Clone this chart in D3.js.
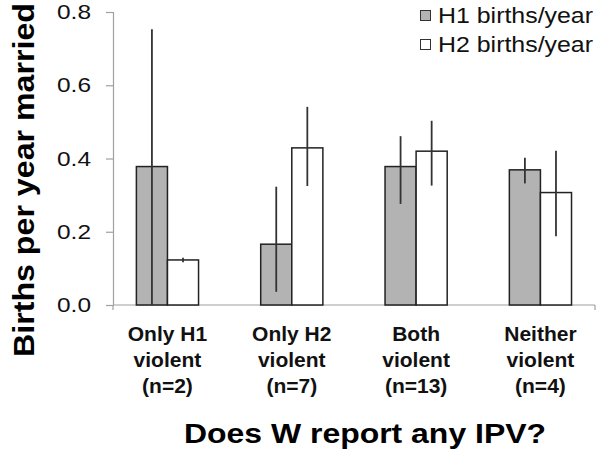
<!DOCTYPE html>
<html>
<head>
<meta charset="utf-8">
<script src="https://cdn.jsdelivr.net/npm/d3@7"></script>
<style>
  html, body { margin: 0; padding: 0; background: #fff; }
  svg { display: block; font-family: "Liberation Sans", Arial, sans-serif; }
</style>
</head>
<body>
<svg id="chart" width="600" height="454"></svg>
<script>
// ---- data ----
const categories = ["Only H1 violent (n=2)", "Only H2 violent (n=7)", "Both violent (n=13)", "Neither violent (n=4)"];
const categoryLines = [["Only H1", "violent", "(n=2)"], ["Only H2", "violent", "(n=7)"], ["Both", "violent", "(n=13)"], ["Neither", "violent", "(n=4)"]];
const seriesNames = ["H1 births/year", "H2 births/year"];
const h1Values = [0.378, 0.166, 0.378, 0.369];
const h2Values = [0.123, 0.429, 0.420, 0.307];
const h1ErrLow = [0.0, 0.036, 0.276, 0.332];
const h1ErrHigh = [0.753, 0.323, 0.461, 0.402];
const h2ErrLow = [0.117, 0.325, 0.326, 0.188];
const h2ErrHigh = [0.129, 0.541, 0.503, 0.421];
const yTicks = [0.0, 0.2, 0.4, 0.6, 0.8];
const yTitle = "Births per year married";
const xTitle = "Does W report any IPV?";

const seriesFill = ["#b3b3b3", "#ffffff"];

const svg = d3.select("#chart");

const x = d3.scaleBand().domain(categories).range([105.3, 602.6]).paddingInner(0).paddingOuter(0);
const xs = d3.scaleBand().domain(seriesNames).range([0, x.bandwidth()]).paddingInner(0).paddingOuter(1);
const y = d3.scaleLinear().domain([0, 0.8]).range([305, 12]);

const rows = categories.map((c, i) => [
  { cat: c, s: seriesNames[0], v: h1Values[i], lo: h1ErrLow[i], hi: h1ErrHigh[i], fill: seriesFill[0] },
  { cat: c, s: seriesNames[1], v: h2Values[i], lo: h2ErrLow[i], hi: h2ErrHigh[i], fill: seriesFill[1] }
]).flat();

// y axis
const yAxis = d3.axisLeft(y).tickValues(yTicks).tickFormat(d3.format(".1f")).tickSizeOuter(0).tickSize(7).tickPadding(15);
const gy = svg.append("g").attr("transform", "translate(113,0)").call(yAxis);
gy.select(".domain").attr("stroke", "#a0a0a0").attr("stroke-width", 1.2);
gy.selectAll(".tick line").attr("stroke", "#a0a0a0").attr("stroke-width", 1.2);
gy.selectAll(".tick text").attr("font-size", 21).attr("fill", "#111")
  .attr("font-family", "'Liberation Sans', Arial, sans-serif")
  .attr("textLength", 34).attr("lengthAdjust", "spacingAndGlyphs");

// x axis line
svg.append("line").attr("x1", 113).attr("x2", 595).attr("y1", y(0)).attr("y2", y(0))
  .attr("stroke", "#a0a0a0").attr("stroke-width", 1.2);
svg.append("line").attr("x1", 595).attr("x2", 595).attr("y1", y(0)).attr("y2", y(0) + 5)
  .attr("stroke", "#a0a0a0").attr("stroke-width", 1.2);
svg.append("line").attr("x1", 113).attr("x2", 113).attr("y1", y(0)).attr("y2", y(0) + 5)
  .attr("stroke", "#a0a0a0").attr("stroke-width", 1.2);

// bars
svg.append("g").selectAll("rect").data(rows).join("rect")
  .attr("x", d => x(d.cat) + xs(d.s))
  .attr("y", d => y(d.v))
  .attr("width", xs.bandwidth())
  .attr("height", d => y(0) - y(d.v))
  .attr("fill", d => d.fill)
  .attr("stroke", "#222")
  .attr("stroke-width", 1.5);

// error bars
svg.append("g").selectAll("line").data(rows).join("line")
  .attr("x1", d => x(d.cat) + xs(d.s) + xs.bandwidth() / 2)
  .attr("x2", d => x(d.cat) + xs(d.s) + xs.bandwidth() / 2)
  .attr("y1", d => y(d.lo))
  .attr("y2", d => y(d.hi))
  .attr("stroke", "#333")
  .attr("stroke-width", 1.8);

// category labels
const catG = svg.append("g");
categories.forEach((c, i) => {
  const t = catG.append("text")
    .attr("x", x(c) + x.bandwidth() / 2)
    .attr("text-anchor", "middle")
    .attr("font-size", 21).attr("font-weight", "bold").attr("fill", "#111");
  categoryLines[i].forEach((ln, j) => {
    t.append("tspan").attr("x", x(c) + x.bandwidth() / 2).attr("y", 341 + j * 26).text(ln);
  });
});

// axis titles
svg.append("text").attr("x", 365).attr("y", 443).attr("text-anchor", "middle")
  .attr("font-size", 27).attr("font-weight", "bold").attr("fill", "#000")
  .attr("textLength", 362).attr("lengthAdjust", "spacingAndGlyphs")
  .text(xTitle);

svg.append("text").attr("transform", "translate(34,180) rotate(-90)").attr("text-anchor", "middle")
  .attr("font-size", 29).attr("font-weight", "bold").attr("fill", "#000")
  .attr("textLength", 354).attr("lengthAdjust", "spacingAndGlyphs")
  .text(yTitle);

// legend
const lg = svg.append("g");
seriesNames.forEach((s, i) => {
  lg.append("rect").attr("x", 420.5).attr("y", 10.5 + i * 29).attr("width", 10).attr("height", 10)
    .attr("fill", seriesFill[i]).attr("stroke", "#333").attr("stroke-width", 1);
  lg.append("text").attr("x", 438).attr("y", 23 + i * 29)
    .attr("font-size", 22).attr("fill", "#111")
    .attr("textLength", 155).attr("lengthAdjust", "spacingAndGlyphs")
    .text(s);
});
</script>
</body>
</html>
